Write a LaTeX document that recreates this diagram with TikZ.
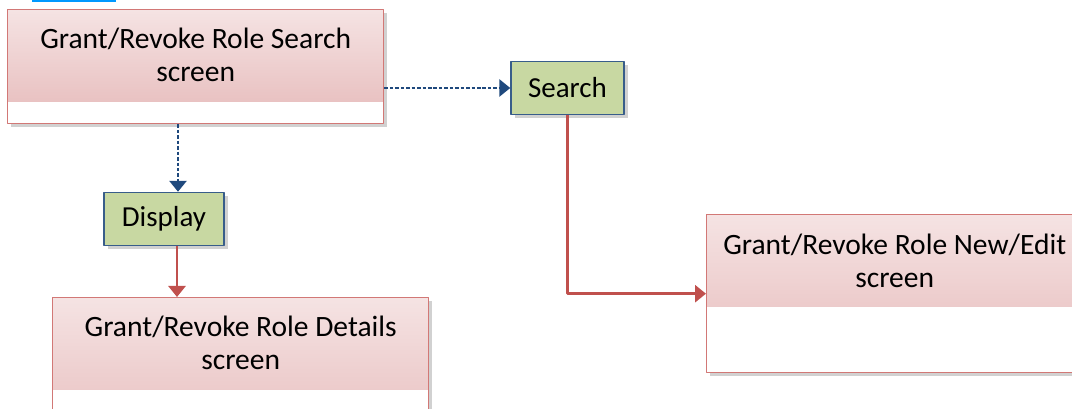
\documentclass[tikz,border=0pt]{standalone}
\usepackage{fontspec}
\setmainfont{Carlito}
\usetikzlibrary{arrows.meta,shadows,calc}

\definecolor{scrborder}{RGB}{210,120,118}
\definecolor{scrtop}{RGB}{245,227,227}
\definecolor{scrbot}{RGB}{230,186,186}
\definecolor{actfill}{RGB}{200,216,162}
\definecolor{actborder}{RGB}{56,93,138}
\definecolor{navyline}{RGB}{31,73,125}
\definecolor{redline}{RGB}{192,80,77}
\definecolor{tabblue}{RGB}{0,153,255}

\begin{document}
\begin{tikzpicture}[line join=round,
    boxshadow/.style={drop shadow={shadow xshift=0.07cm, shadow yshift=-0.07cm, fill=black!45, opacity=0.4}},
    screen/.style={rectangle, draw=scrborder, line width=0.8pt, fill=white, inner sep=0pt,
        minimum width=7.52cm, minimum height=#1, anchor=north west, boxshadow,
        path picture={\shade[top color=scrtop, bottom color=scrbot]
            (path picture bounding box.north west) rectangle ([yshift=-1.83cm]path picture bounding box.north east);}},
    scrtext/.style={align=center, inner sep=0pt, font=\fontsize{16.8}{18.8}\selectfont},
    action/.style={rectangle, draw=actborder, line width=0.8pt, fill=actfill, inner sep=0pt,
        minimum width=#1, minimum height=1.06cm, boxshadow, font=\fontsize{16.5}{18.8}\selectfont},
    dashflow/.style={navyline, line width=1.6pt, dash pattern=on 2pt off 1.1pt,
        -{Triangle[length=0.22cm, width=0.34cm]}},
    solidflow/.style={redline, line width=1.6pt, -{Triangle[length=0.22cm, width=0.34cm]}}]

    % page frame
    \useasboundingbox (0,0) rectangle (21.44,-8.18);
    \clip (0,0) rectangle (21.44,-8.18);

    % tab strip at the top
    \fill[tabblue] (0.64,0) rectangle (2.32,-0.05);

    % screens
    \node[screen=2.28cm] (srch) at (0.14,-0.18) {};
    \node[scrtext] (srchlbl) at ([yshift=-0.91cm]srch.north) {Grant/Revoke Role Search\\screen};

    \node[screen=3.16cm] (dtl) at (1.04,-5.94) {};
    \node[scrtext] (dtllbl) at ([yshift=-0.91cm]dtl.north) {Grant/Revoke Role Details\\screen};

    \node[screen=3.16cm] (edit) at (14.12,-4.28) {};
    \node[scrtext] (editlbl) at ([yshift=-0.93cm]edit.north) {Grant/Revoke Role New/Edit\\screen};

    % actions
    \node[action=2.26cm] (search) at (11.35,-1.76) {Search};
    \node[action=2.40cm] (disp) at (3.28,-4.38) {Display};

    % flows
    \draw[dashflow] (srch.east |- search.west) -- (search.west);

    \coordinate (dtop) at ([xshift=0.28cm]disp.north);
    \draw[dashflow] (srch.south -| dtop) -- (dtop);

    \coordinate (dbot) at ([xshift=0.26cm]disp.south);
    \draw[solidflow] (dbot) -- (dtl.north -| dbot);

    \draw[solidflow] (search.south) |- (edit.west);
\end{tikzpicture}
\end{document}
